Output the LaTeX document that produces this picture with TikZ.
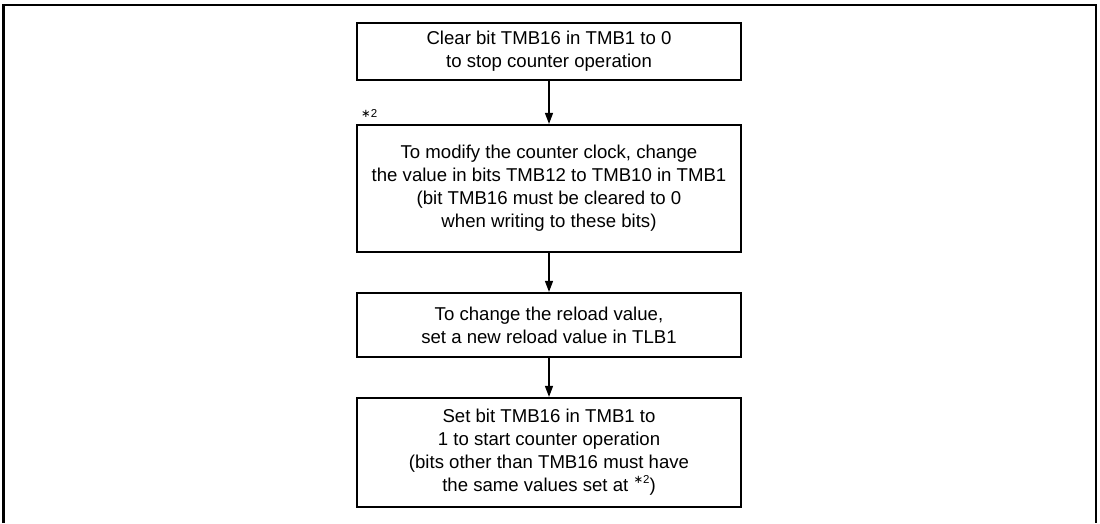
\documentclass[tikz,border=0pt]{standalone}
\usepackage{fontspec}
\setmainfont{Liberation Sans}
\newfontfamily\djv{DejaVu Sans}
\usetikzlibrary{arrows.meta}
\newcommand{\astsym}{{\djv ∗}}
\begin{document}
\begin{tikzpicture}[x=1pt,y=-1pt,
  stepbox/.style={draw, line width=2.2pt, minimum width=384pt, inner sep=0pt,
    align=center, font=\fontsize{18.6}{23}\selectfont, anchor=center},
  flow/.style={line width=1.3pt, -{Triangle[length=11pt,width=8pt]}},
  frame/.style={line width=2.4pt}]
\useasboundingbox (0,0) rectangle (1100,523);
\draw[frame] (3.5,523) -- (3.5,5) -- (1096,5) -- (1096,523);
\node[stepbox, minimum height=57pt] (b1) at (549,51.5)
  {Clear bit TMB16 in TMB1 to 0\\to stop counter operation};
\node[stepbox, minimum height=127pt] (b2) at (549,188.5)
  {To modify the counter clock, change\\the value in bits TMB12 to TMB10 in TMB1\\(bit TMB16 must be cleared to 0\\when writing to these bits)};
\node[stepbox, minimum height=64pt] (b3) at (549,325)
  {To change the reload value,\\set a new reload value in TLB1};
\node[stepbox, minimum height=109pt] (b4) at (549,452.5)
  {Set bit TMB16 in TMB1 to\\1 to start counter operation\\(bits other than TMB16 must have\\the same values set at \raisebox{0.45em}{\fontsize{11.5}{11.5}\selectfont\astsym 2})};
\node[font=\fontsize{11.5}{11.5}\selectfont, anchor=west, inner sep=0pt] (m2) at (361,113) {\astsym 2};
\draw[flow] (b1) -- (b2);
\draw[flow] (b2) -- (b3);
\draw[flow] (b3) -- (b4);
\end{tikzpicture}
\end{document}
